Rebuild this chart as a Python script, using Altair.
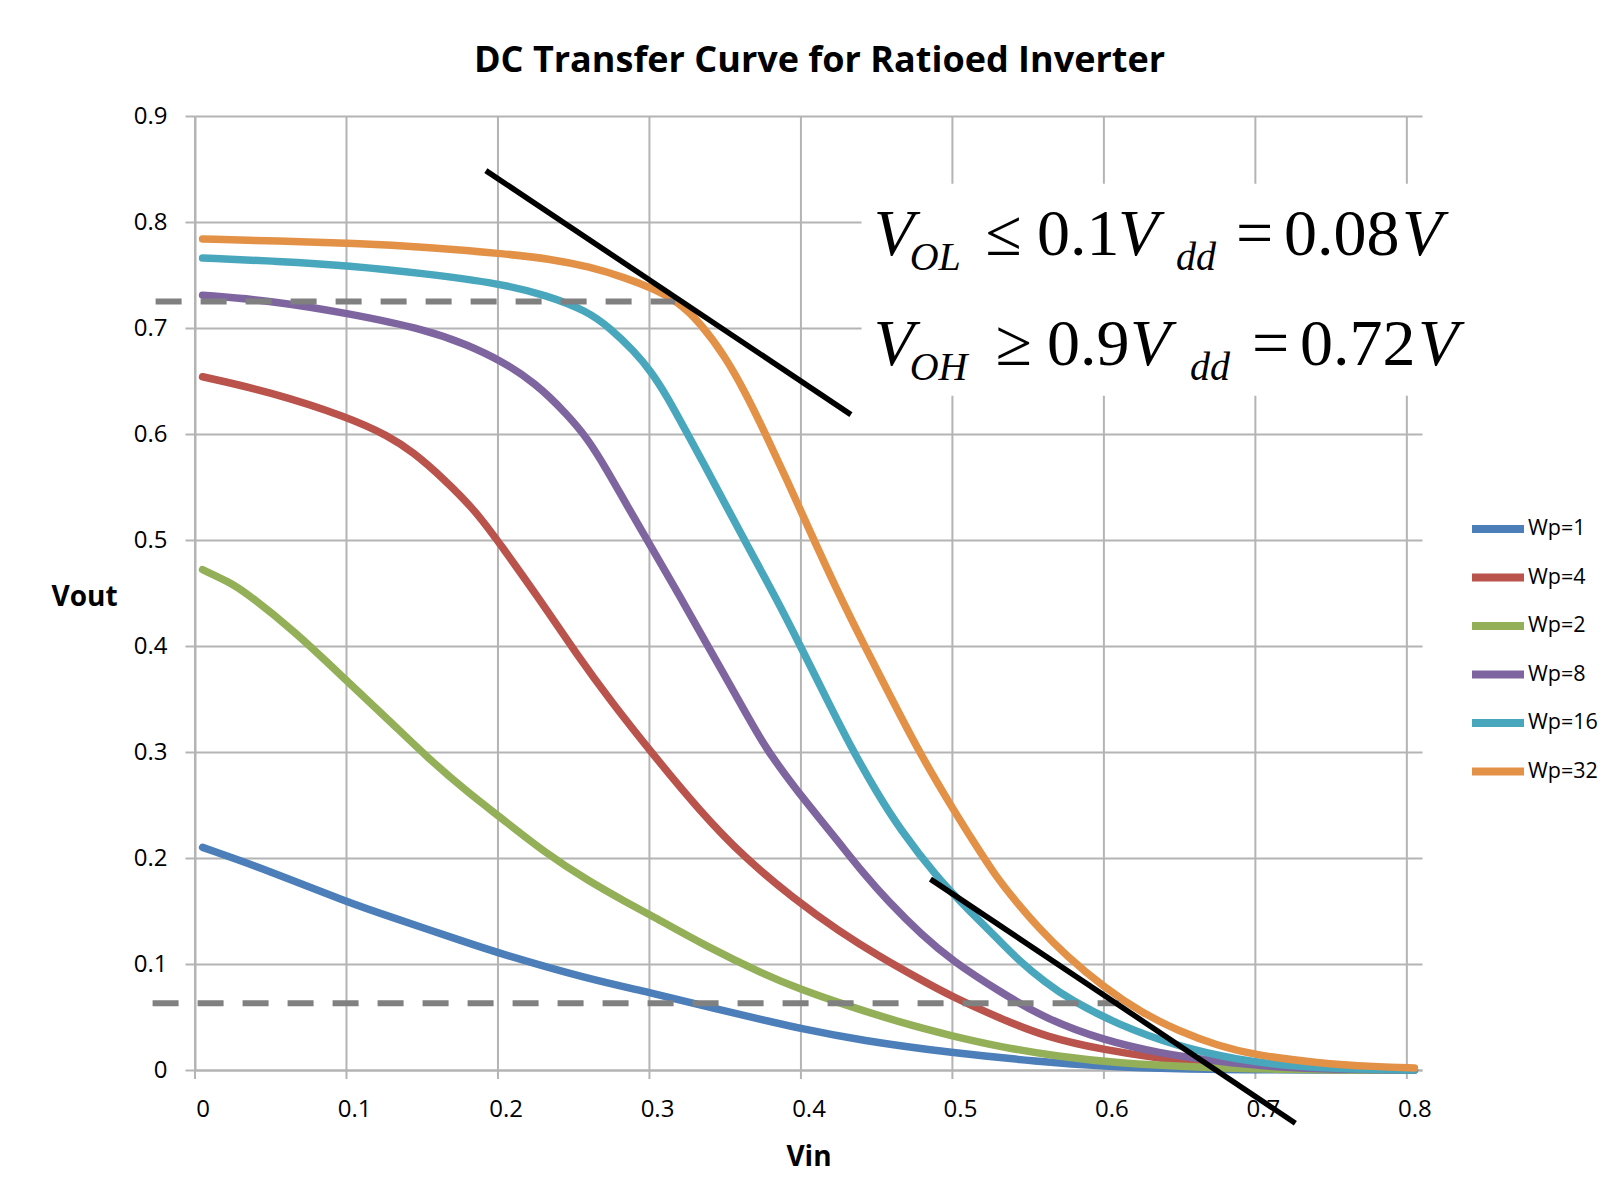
import altair as alt
import pandas as pd

# ---------------- data ----------------
series_names = ["Wp=1", "Wp=4", "Wp=2", "Wp=8", "Wp=16", "Wp=32"]
series_colors = ["#4C7EB9", "#B9534B", "#93B058", "#7E65A0", "#48A7BD", "#E39146"]

wp1_x = [0, 0.044, 0.096, 0.123, 0.175, 0.196, 0.254, 0.296, 0.332, 0.371, 0.395, 0.434,
         0.495, 0.552, 0.595, 0.644, 0.7, 0.8]
wp1_y = [0.210, 0.188, 0.158, 0.145, 0.120, 0.110, 0.086, 0.073, 0.060, 0.047, 0.039, 0.028,
         0.016, 0.008, 0.0035, 0.0008, 0, 0]

wp4_x = [0, 0.044, 0.096, 0.123, 0.139, 0.159, 0.180, 0.197, 0.222, 0.248, 0.269, 0.296,
         0.329, 0.358, 0.390, 0.421, 0.447, 0.473, 0.495, 0.526, 0.557, 0.595, 0.631, 0.670,
         0.709, 0.75, 0.8]
wp4_y = [0.654, 0.640, 0.616, 0.598, 0.583, 0.558, 0.528, 0.495, 0.445, 0.390, 0.349, 0.300,
         0.243, 0.200, 0.162, 0.130, 0.107, 0.086, 0.069, 0.049, 0.031, 0.019, 0.011, 0.005,
         0.0016, 0.0004, 0]

wp2_x = [0, 0.018, 0.028, 0.060, 0.096, 0.123, 0.149, 0.175, 0.196, 0.227, 0.254, 0.280,
         0.296, 0.332, 0.371, 0.395, 0.421, 0.460, 0.495, 0.526, 0.565, 0.604, 0.657, 0.709,
         0.76, 0.8]
wp2_y = [0.472, 0.460, 0.451, 0.415, 0.366, 0.330, 0.294, 0.262, 0.239, 0.204, 0.179, 0.158,
         0.146, 0.117, 0.090, 0.076, 0.063, 0.045, 0.032, 0.022, 0.0126, 0.0065, 0.0025, 0.0006,
         0, 0]

wp8_x = [0, 0.044, 0.096, 0.149, 0.175, 0.196, 0.22, 0.241, 0.254, 0.267, 0.280, 0.296,
         0.315, 0.332, 0.353, 0.371, 0.385, 0.395, 0.408, 0.421, 0.436, 0.452, 0.475, 0.495,
         0.526, 0.557, 0.595, 0.631, 0.670, 0.709, 0.749, 0.8]
wp8_y = [0.731, 0.726, 0.714, 0.698, 0.684, 0.670, 0.648, 0.618, 0.596, 0.566, 0.533, 0.494,
         0.447, 0.404, 0.351, 0.305, 0.278, 0.259, 0.236, 0.213, 0.186, 0.160, 0.127, 0.103,
         0.074, 0.048, 0.028, 0.016, 0.008, 0.0025, 0.0006, 0]

wp16_x = [0, 0.05, 0.096, 0.149, 0.196, 0.227, 0.254, 0.269, 0.285, 0.296, 0.306, 0.319,
          0.332, 0.345, 0.358, 0.379, 0.395, 0.412, 0.429, 0.445, 0.460, 0.484, 0.507, 0.524,
          0.539, 0.556, 0.573, 0.604, 0.644, 0.683, 0.723, 0.762, 0.8]
wp16_y = [0.766, 0.763, 0.759, 0.751, 0.742, 0.731, 0.716, 0.700, 0.678, 0.659, 0.637, 0.603,
          0.569, 0.534, 0.499, 0.444, 0.399, 0.350, 0.302, 0.262, 0.228, 0.183, 0.149, 0.125,
          0.103, 0.083, 0.066, 0.043, 0.022, 0.0095, 0.003, 0.0006, 0]

wp32_x = [0, 0.05, 0.1, 0.15, 0.2, 0.23, 0.255, 0.28, 0.296, 0.314, 0.329, 0.345, 0.358,
          0.371, 0.386, 0.401, 0.418, 0.437, 0.455, 0.473, 0.495, 0.510, 0.523, 0.538, 0.552,
          0.570, 0.595, 0.620, 0.644, 0.670, 0.695, 0.736, 0.775, 0.8]
wp32_y = [0.784, 0.782, 0.780, 0.776, 0.770, 0.765, 0.758, 0.747, 0.738, 0.725, 0.704, 0.673,
          0.640, 0.602, 0.556, 0.508, 0.455, 0.400, 0.350, 0.300, 0.247, 0.213, 0.184, 0.157,
          0.134, 0.108, 0.078, 0.054, 0.037, 0.023, 0.014, 0.0065, 0.003, 0.002]

x_tick_values = [0.0, 0.1, 0.2, 0.3, 0.4, 0.5, 0.6, 0.7, 0.8]
y_tick_values = [0.0, 0.1, 0.2, 0.3, 0.4, 0.5, 0.6, 0.7, 0.8, 0.9]
# vertical gridlines sit half a category (0.005) left of each label
x_grid_values = [-0.005, 0.095, 0.195, 0.295, 0.395, 0.495, 0.595, 0.695, 0.795]

# dashed VOH / VOL reference lines
dash_y = [0.725, 0.0629]
dash_x1 = [-0.031, -0.033]
dash_x2 = [0.312, 0.605]

# black tangent lines
tan_x1 = [0.187, 0.4805]
tan_y1 = [0.8485, 0.1801]
tan_x2 = [0.428, 0.7214]
tan_y2 = [0.6183, -0.0502]

# equation annotation (white backing box + text pieces)
box_x1, box_x2, box_y1, box_y2 = [0.435], [0.845], [0.636], [0.836]
eq_text = ["V", "OL", "≤", "0.1", "V", "dd", "=", "0.08", "V",
           "V", "OH", "≥", "0.9", "V", "dd", "=", "0.72", "V"]
eq_x = [0.4430, 0.4668, 0.5167, 0.5508, 0.6043, 0.6426, 0.6822, 0.7139, 0.7918,
        0.4430, 0.4668, 0.5235, 0.5574, 0.6122, 0.6519, 0.6928, 0.7245, 0.8024]
eq_y = [0.7690, 0.7547, 0.7690, 0.7690, 0.7690, 0.7547, 0.7690, 0.7690, 0.7690,
        0.6650, 0.6508, 0.6650, 0.6650, 0.6650, 0.6508, 0.6650, 0.6650, 0.6650]
eq_kind = ["ib", "is", "n", "n", "ib", "is", "n", "n", "ib",
           "ib", "is", "n", "n", "ib", "is", "n", "n", "ib"]

# ---------------- tables ----------------
rows = []
for name, xs, ys in zip(series_names,
                        [wp1_x, wp4_x, wp2_x, wp8_x, wp16_x, wp32_x],
                        [wp1_y, wp4_y, wp2_y, wp8_y, wp16_y, wp32_y]):
    for xv, yv in zip(xs, ys):
        rows.append({"series": name, "Vin": xv, "Vout": yv})
curves = pd.DataFrame(rows)

grid_df = pd.DataFrame({"gx": x_grid_values})
dash_df = pd.DataFrame({"x1": dash_x1, "x2": dash_x2, "y": dash_y})
tan_df = pd.DataFrame({"x1": tan_x1, "y1": tan_y1, "x2": tan_x2, "y2": tan_y2})
box_df = pd.DataFrame({"x1": box_x1, "x2": box_x2, "y1": box_y1, "y2": box_y2})
eq_df = pd.DataFrame({"t": eq_text, "x": eq_x, "y": eq_y, "k": eq_kind})

# ---------------- layout constants ----------------
W, H = 1227, 954
xs_scale = alt.Scale(domain=[-0.005, 0.805], nice=False, zero=False)
ys_scale = alt.Scale(domain=[0, 0.9], nice=False, zero=False)
GRID = "#b4b4b4"
LABEL_FONT = "Open Sans"

x_axis = alt.Axis(values=x_tick_values, grid=False, ticks=False,
                  domainColor=GRID, domainWidth=2, format=".1~f",
                  labelFont=LABEL_FONT, labelFontSize=24, labelColor="#000000",
                  labelPadding=27, labelFlush=False,
                  title="Vin", titleFont=LABEL_FONT, titleFontSize=28,
                  titleFontWeight="bold", titleColor="#000000",
                  titleY=87, titleBaseline="middle")
y_axis = alt.Axis(values=y_tick_values, grid=True, gridColor=GRID, gridWidth=2,
                  ticks=True, tickSize=10, tickColor=GRID, tickWidth=2,
                  domainColor=GRID, domainWidth=2, format=".1~f",
                  labelFont=LABEL_FONT, labelFontSize=24, labelColor="#000000",
                  labelPadding=18, labelFlush=False,
                  title="Vout", titleFont=LABEL_FONT, titleFontSize=28,
                  titleFontWeight="bold", titleColor="#000000", titleAngle=0,
                  titleX=-111, titleY=481, titleAlign="center", titleBaseline="middle")

lines = alt.Chart(curves).mark_line(strokeWidth=7.5, strokeCap="round",
                                    strokeJoin="round", interpolate="basis").encode(
    x=alt.X("Vin:Q", scale=xs_scale, axis=x_axis),
    y=alt.Y("Vout:Q", scale=ys_scale, axis=y_axis),
    color=alt.Color("series:N",
                    scale=alt.Scale(domain=series_names, range=series_colors),
                    sort=series_names,
                    legend=alt.Legend(orient="none", legendX=1273, legendY=403,
                                      title=None, symbolType="stroke",
                                      symbolSize=2704, symbolStrokeWidth=8,
                                      labelFont=LABEL_FONT, labelFontSize=21.5,
                                      labelColor="#000000", labelOffset=0,
                                      clipHeight=20, rowPadding=26.5, padding=0)),
    detail="series:N",
)

vgrid = alt.Chart(grid_df).mark_rule(color=GRID, strokeWidth=2).encode(
    x=alt.X("gx:Q", scale=xs_scale, axis=x_axis),
    y=alt.value(0),
    y2=alt.value(H + 9),
)

box = alt.Chart(box_df).mark_rect(color="white").encode(
    x=alt.X("x1:Q", scale=xs_scale, axis=x_axis), x2="x2:Q",
    y=alt.Y("y1:Q", scale=ys_scale, axis=y_axis), y2="y2:Q",
)

dashes = alt.Chart(dash_df).mark_rule(color="#808080", strokeWidth=6,
                                      strokeDash=[26, 19]).encode(
    x=alt.X("x1:Q", scale=xs_scale, axis=x_axis), x2="x2:Q",
    y=alt.Y("y:Q", scale=ys_scale, axis=y_axis),
)

tangents = alt.Chart(tan_df).mark_rule(color="#000000", strokeWidth=5.5).encode(
    x=alt.X("x1:Q", scale=xs_scale, axis=x_axis), x2="x2:Q",
    y=alt.Y("y1:Q", scale=ys_scale, axis=y_axis), y2="y2:Q",
)

def eq_layer(kind, size, style):
    return alt.Chart(eq_df).transform_filter(
        alt.datum.k == kind
    ).mark_text(font="Liberation Serif", fontSize=size, fontStyle=style,
                align="left", baseline="alphabetic", color="#000000").encode(
        x=alt.X("x:Q", scale=xs_scale, axis=x_axis),
        y=alt.Y("y:Q", scale=ys_scale, axis=y_axis),
        text="t:N",
    )

eq_big_italic = eq_layer("ib", 66, "italic")
eq_small_italic = eq_layer("is", 40, "italic")
eq_normal = eq_layer("n", 66, "normal")

chart = alt.layer(
    vgrid, lines, box, dashes, tangents, eq_big_italic, eq_small_italic, eq_normal,
).properties(
    width=W, height=H,
    background="white",
    title=alt.TitleParams("DC Transfer Curve for Ratioed Inverter", font=LABEL_FONT,
                          fontSize=36, fontWeight="bold", color="#000000",
                          anchor="middle", offset=24, dx=11),
    autosize=alt.AutoSizeParams(type="none"),
    padding={"left": 187, "top": 108, "right": 190, "bottom": 120},
).configure_view(strokeWidth=0)

chart.save("out.html", embed_options={"renderer": "svg", "actions": False})
